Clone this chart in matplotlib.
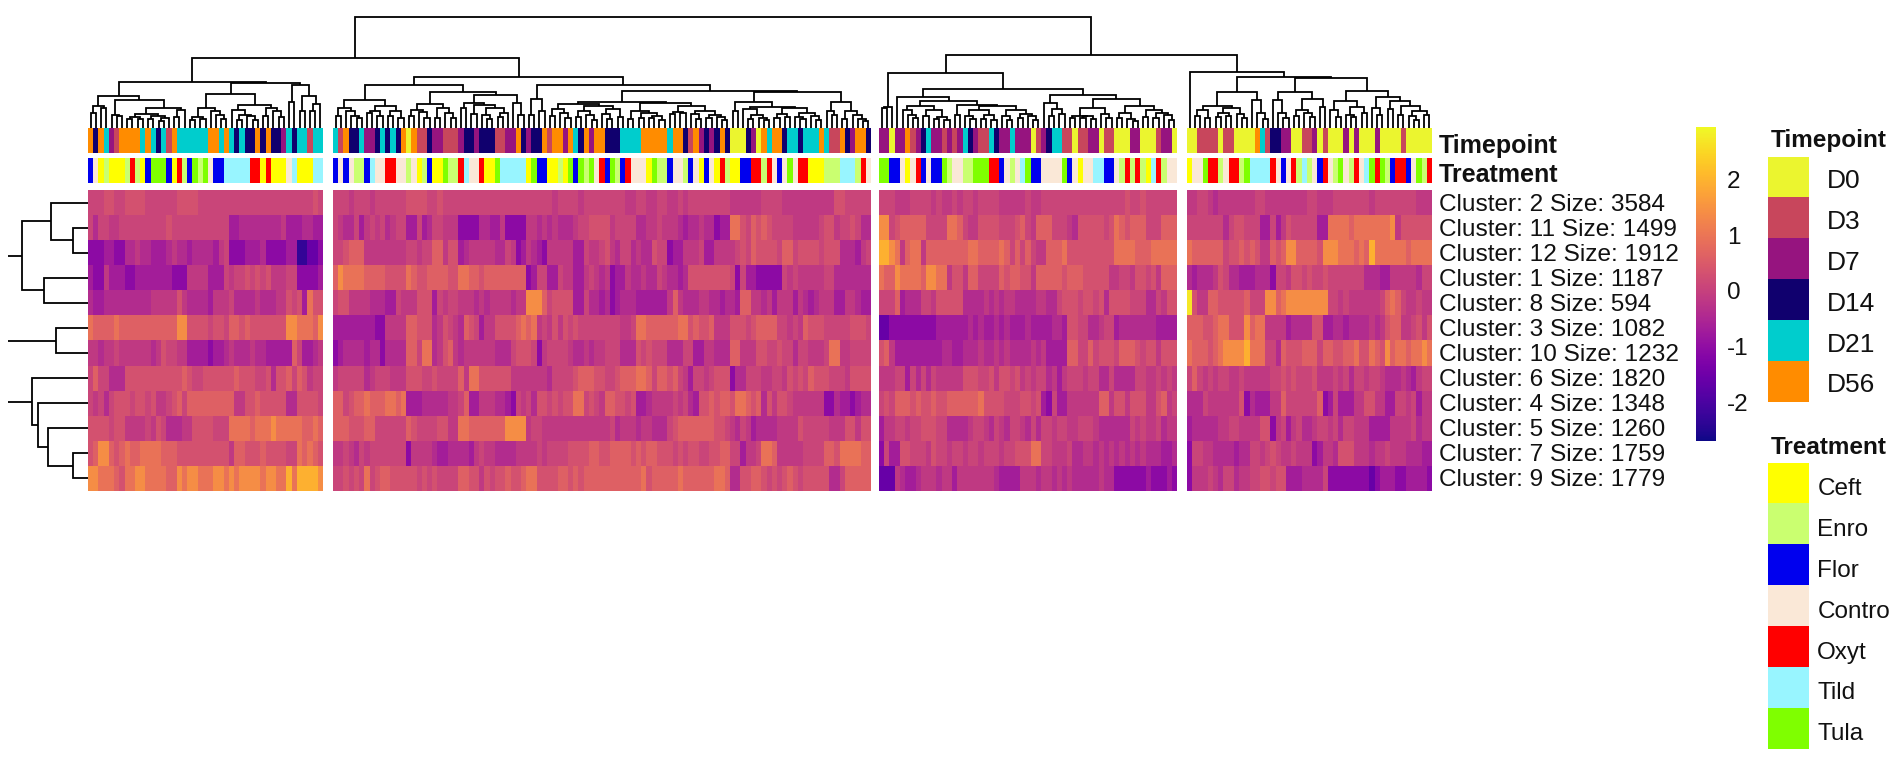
import numpy as np
import matplotlib
matplotlib.use("Agg")
import matplotlib.pyplot as plt
from matplotlib.colors import ListedColormap, Normalize
from matplotlib.cm import ScalarMappable
from matplotlib.transforms import ScaledTranslation

##### DATA #####
# heatmap cells, one list per row, columns of the 4 blocks
# the numbers are steps on z_levels
z_levels = [-2.3, -1.6, -1.05, -0.68, -0.38, -0.12, 0.1, 0.33, 0.62, 0.95, 1.4, 1.95, 2.7]

cluster_2 = [6,6,6,7,7,6,6,7,7,7, 7,6,6,6,6,6,6,7,7,7, 7,6,6,6,6,6,6,6,6,6, 6,6,6,6,6,6,6,6,6,6, 6,6,6,7,6,
    6,6,6,5,6,6,6,5,6,6, 6,6,6,6,7,7,7,7,6,6, 7,6,6,6,6,6,6,6,6,6, 6,6,6,6,6,6,6,6,6,6, 6,6,5,6,6,6,6,5,6,6, 6,6,
    6,6,6,6,5,5,6,6,5,5, 6,6,5,5,6,5,6,6,6,6, 6,6,6,6,5,5,5,5,5,5, 6,6,6,6,5,5,5,5,5,5, 5,5,5,5,7,7,6,6,6,6, 6,
    6,6,6,5,5,5,6,6,6,6, 5,6,5,5,6,5,6,6,5,6, 6,6,6,5,5,5,5,5,6,5, 5,6,6,6,6,6,6,6,6,6, 6,6,6,6,6,6,6,7,6,6, 7,6,6,6,6,6,6,
    5,5,6,6,5,4,5,5,5,5, 5,5,5,6,6,5,5,5,5,5, 5,5,5,6,6,5,5,5,6,6, 6,6,6,6,6,5,6,6,6,6, 6,6,6,6,5,5,5]
cluster_11 = [6,4,6,6,5,5,6,6,6,6, 6,6,6,6,6,7,6,6,6,6, 6,6,6,6,6,6,6,3,3,4, 4,4,4,4,4,4,4,5,3,3, 3,4,4,3,3,
    6,5,4,4,6,3,5,6,5,6, 4,5,6,6,3,3,6,3,4,6, 6,5,5,5,2,2,2,2,4,4, 3,3,5,2,2,2,2,5,5,4, 5,4,5,4,4,4,5,6,6,7, 7,7,
    7,5,6,6,6,6,4,4,5,5, 6,5,5,5,4,3,4,4,5,4, 4,2,3,3,9,9,7,6,8,7, 8,7,6,6,6,6,5,5,5,5, 5,6,7,7,5,6,6,7,6,4, 4,
    10,10,6,7,8,8,8,8,8,6, 6,6,6,9,9,8,6,5,5,7, 7,7,7,6,6,6,7,8,6,5, 8,8,8,6,6,6,5,4,7,7, 7,7,7,6,7,9,8,7,8,8, 8,6,6,6,8,8,8,
    6,6,6,6,6,6,6,4,6,7, 7,6,6,6,3,3,6,3,5,7, 6,6,6,6,6,3,3,9,9,9, 9,8,9,9,9,9,9,9,9,10, 5,7,7,7,7,7,7]
cluster_12 = [2,2,2,3,3,2,2,4,4,5, 4,4,3,3,3,4,5,4,4,3, 4,4,4,4,3,5,6,2,2,2, 3,3,3,4,2,2,2,2,3,3, 0,0,1,1,2,
    6,6,7,8,8,8,5,5,5,5, 5,5,5,5,6,6,5,6,6,8, 8,5,7,7,3,4,5,5,5,5, 5,4,4,6,5,2,3,5,4,3, 2,5,5,5,5,5,3,3,6,5, 5,6,
    7,5,4,6,6,4,5,4,4,7, 6,6,2,3,3,5,5,5,6,3, 3,5,5,5,5,6,7,6,8,7, 7,7,7,6,8,8,6,7,7,7, 7,6,7,7,7,4,4,4,3,5, 6,
    11,11,10,9,5,8,9,9,5,8, 8,8,8,8,8,8,8,9,9,8, 8,8,8,9,8,6,8,6,8,6, 5,5,8,8,8,9,7,7,7,7, 7,7,7,7,7,9,9,9,9,8, 8,8,9,9,9,9,9,
    9,8,8,8,8,8,8,6,7,7, 8,7,8,7,5,5,8,7,8,10, 10,8,8,8,8,7,10,10,10,9, 9,9,8,9,8,11,9,9,9,9, 9,9,8,9,9,9,9]
cluster_1 = [3,2,2,5,3,3,3,2,2,3, 3,3,3,3,3,3,2,2,2,5, 5,5,5,3,3,3,6,5,6,6, 7,6,7,6,7,5,5,5,6,6, 2,2,2,2,3,
    8,10,9,9,9,9,8,8,8,8, 7,7,7,7,9,8,7,7,8,8, 8,8,7,7,9,9,8,8,7,8, 8,8,8,8,8,8,8,2,3,6, 6,3,3,6,5,5,3,3,5,6, 5,4,
    5,2,3,3,5,4,4,5,4,4, 6,5,4,4,3,4,7,7,7,7, 7,7,7,7,6,2,6,3,3,2, 2,2,2,2,6,5,6,5,5,5, 5,5,6,6,4,4,4,4,4,4, 4,
    9,8,8,10,9,9,9,9,8,10, 10,9,9,5,7,7,5,8,8,6, 6,6,6,8,7,8,8,7,7,5, 8,8,8,8,8,7,8,8,8,7, 7,7,7,7,5,5,6,6,5,7, 7,6,7,5,8,8,8,
    4,3,4,4,4,5,7,6,4,4, 3,3,3,4,4,4,2,6,6,5, 7,7,6,7,6,6,7,6,6,6, 6,6,6,6,4,4,4,3,3,5, 5,5,5,5,4,6,6]
cluster_8 = [4,3,3,4,4,4,4,4,4,4, 4,4,5,5,5,5,5,7,5,4, 4,4,4,3,5,5,5,6,4,4, 4,4,5,4,4,4,5,5,7,6, 7,3,9,7,7,
    6,7,7,5,5,5,5,4,4,4, 3,3,6,5,5,5,7,7,7,3, 6,5,6,6,5,5,5,4,5,4, 5,5,5,5,4,5,5,10,10,10, 8,6,7,7,7,7,3,3,6,4, 4,3,
    4,2,3,4,4,4,3,3,3,3, 3,3,5,8,5,4,4,4,5,5, 4,4,3,4,4,3,8,8,5,5, 4,5,3,5,5,5,3,5,4,3, 4,5,5,5,3,3,5,5,4,3, 3,
    6,6,6,8,3,4,4,4,6,6, 5,7,7,7,7,7,4,4,4,4, 5,4,5,4,5,5,4,4,4,4, 5,5,4,4,6,7,7,7,6,7, 7,6,7,4,7,7,7,7,6,6, 6,4,4,6,5,7,7,
    12,7,5,5,8,8,7,7,7,7, 7,8,6,6,6,10,10,8,9,10, 10,10,10,10,10,10,10,6,6,5, 6,5,5,5,5,5,5,6,8,9, 8,6,5,5,6,5,5]
cluster_3 = [9,8,8,8,8,9,8,8,8,8, 8,8,8,8,8,8,8,10,10,7, 7,7,7,6,7,7,6,8,8,7, 8,7,7,7,7,7,7,7,10,10, 9,9,9,8,10,
    3,3,3,3,3,3,3,3,2,2, 5,5,5,5,8,8,7,7,7,4, 5,7,6,5,4,8,7,6,3,5, 5,7,7,7,7,8,9,8,9,5, 6,5,7,5,7,6,7,6,6,6, 6,6,
    6,6,6,5,5,6,9,9,8,8, 8,8,8,8,9,9,7,8,7,7, 8,5,5,5,7,7,7,6,7,8, 8,8,8,6,6,5,6,5,8,7, 7,7,6,6,6,6,6,7,7,7, 6,
    1,1,2,2,2,2,2,2,2,2, 2,3,3,3,3,3,3,4,3,4, 3,3,4,3,4,3,3,3,4,3, 3,3,3,4,4,3,7,7,6,6, 4,4,5,6,6,3,4,4,4,4, 4,4,4,3,3,3,3,
    8,8,8,7,7,8,9,9,7,7, 7,10,8,9,9,5,5,5,5,3, 4,4,4,4,7,7,3,3,4,4, 3,4,4,4,4,5,4,5,7,8, 8,5,5,6,7,5,7]
cluster_10 = [5,5,4,5,5,6,5,5,5,5, 5,5,4,5,7,6,6,5,5,3, 3,3,3,2,3,3,4,5,4,4, 4,5,4,4,3,3,3,3,3,8, 6,3,3,4,5,
    2,3,4,4,4,4,3,4,4,2, 4,4,4,4,8,8,6,9,9,4, 5,7,8,5,4,5,5,5,5,5, 5,4,4,4,6,7,7,7,6,2, 5,6,6,6,6,5,4,4,5,4, 5,5,
    6,6,6,4,4,4,7,6,7,6, 6,6,4,4,4,6,6,3,3,5, 5,4,4,4,8,8,5,5,5,7, 7,6,6,7,6,6,4,6,6,5, 5,5,6,9,9,5,5,6,6,6, 6,
    7,8,5,3,3,3,3,3,3,3, 3,3,4,4,3,3,4,4,4,5, 4,4,5,4,5,4,4,4,4,5, 4,5,3,3,3,3,8,8,6,6, 8,6,7,7,7,6,8,8,8,7, 6,7,7,5,7,7,7,
    9,8,8,8,7,8,9,10,10,10, 10,11,9,9,9,6,6,4,8,7, 7,7,8,8,8,6,8,8,7,7, 8,8,9,7,7,9,8,7,10,8, 9,9,8,9,9,10,9]
cluster_6 = [6,8,6,6,4,4,4,7,7,7, 7,7,7,7,7,7,7,7,8,7, 6,6,7,7,7,7,7,7,8,7, 7,7,6,6,7,4,7,7,8,6, 8,7,5,6,6,
    5,6,6,6,6,6,4,5,6,6, 6,5,5,5,7,7,7,6,6,7, 6,6,6,6,8,5,9,9,7,7, 7,7,7,7,5,5,5,5,5,5, 5,4,6,6,6,6,7,8,8,8, 7,7,
    6,6,7,8,8,8,9,9,8,6, 8,8,7,8,6,5,3,6,6,5, 6,7,7,7,2,4,4,6,6,6, 5,5,6,6,5,7,6,7,6,8, 7,7,7,6,6,6,5,7,7,7, 7,
    5,5,5,6,6,3,6,4,6,4, 6,5,5,5,5,5,7,7,7,6, 6,7,5,7,7,6,7,5,6,5, 6,6,4,5,3,5,6,6,6,5, 6,6,4,4,6,4,4,4,4,6, 6,5,5,6,5,6,5,
    6,8,6,5,6,5,6,6,5,5, 6,5,5,5,5,5,6,6,7,6, 7,6,6,6,7,5,5,5,6,5, 6,4,6,6,5,6,6,5,4,4, 4,5,4,3,5,6,6]
cluster_4 = [6,5,6,4,6,7,7,7,6,7, 7,6,7,5,5,6,7,8,6,8, 8,8,8,8,8,8,8,8,5,5, 7,7,8,7,7,7,7,7,4,4, 7,7,7,7,6,
    8,8,6,7,8,8,9,8,8,8, 9,9,8,9,3,3,3,4,4,4, 4,4,5,5,6,8,3,3,5,5, 5,4,4,3,2,6,5,6,4,7, 7,6,7,6,7,7,9,9,6,7, 6,5,
    8,8,7,7,6,7,3,3,4,5, 5,5,5,6,5,6,4,3,7,7, 8,7,8,8,7,9,9,8,7,8, 4,7,5,7,7,6,5,5,5,5, 5,5,2,2,4,3,3,2,3,4, 4,
    6,7,6,8,8,8,7,8,7,7, 8,7,7,8,8,8,8,8,8,9, 7,7,7,7,6,6,6,7,7,6, 7,3,2,6,3,3,5,5,5,5, 5,5,8,8,5,7,7,5,7,7, 7,5,5,7,8,5,6,
    4,4,4,6,5,5,5,5,5,5, 7,2,4,3,3,3,5,5,8,6, 6,6,6,6,6,8,2,3,6,3, 3,3,5,5,7,7,5,5,3,3, 6,6,5,6,3,5,5]
cluster_5 = [7,7,7,7,6,7,7,5,5,5, 5,6,5,7,6,4,4,4,5,5, 7,7,7,7,6,6,6,9,9,9, 9,8,9,9,9,10,9,9,9,9, 9,8,8,9,8,
    8,8,8,7,7,7,8,8,6,6, 6,6,6,6,8,7,6,6,6,6, 7,7,5,5,9,9,8,8,8,8, 8,8,8,10,10,10,10,5,6,6, 5,5,5,5,5,5,5,5,5,5, 5,5,
    5,6,4,5,5,5,4,5,5,4, 4,4,6,7,8,8,8,8,8,8, 8,7,7,6,5,4,6,5,3,4, 4,4,4,5,5,5,5,7,6,6, 6,6,6,5,5,5,7,7,5,7, 7,
    3,5,5,6,6,5,6,6,7,7, 7,6,6,4,4,4,4,5,6,6, 5,4,6,5,4,6,6,5,4,6, 4,6,6,5,6,6,5,5,6,6, 6,5,4,4,4,4,4,4,6,5, 6,5,5,6,4,5,5,
    3,4,4,4,4,4,5,5,6,6, 5,5,5,5,7,7,2,5,6,3, 5,6,4,4,5,6,6,5,6,4, 6,6,5,5,5,3,3,3,3,5, 5,5,5,6,4,5,5]
cluster_7 = [7,8,10,10,8,7,8,9,8,8, 9,9,9,9,8,8,8,7,7,7, 7,7,7,7,7,7,7,5,8,8, 7,7,7,8,7,7,7,7,6,6, 9,8,9,8,7,
    5,5,6,5,4,6,5,6,6,6, 6,6,6,6,2,5,5,5,5,4, 3,3,4,4,4,4,3,5,6,5, 5,4,4,4,4,5,5,5,5,6, 5,6,6,6,6,7,7,7,7,8, 8,7,
    7,8,8,8,8,7,8,7,8,8, 7,7,7,6,7,6,7,7,6,6, 7,7,8,8,6,6,3,5,5,6, 9,9,8,5,5,5,5,5,6,6, 6,6,8,8,7,9,9,9,9,8, 8,
    2,6,3,3,7,7,6,6,6,5, 7,6,6,5,6,6,5,6,6,5, 6,6,6,5,6,6,7,7,7,9, 9,6,6,5,5,5,6,4,4,5, 5,4,5,4,5,4,5,4,5,4, 5,4,4,4,3,3,4,
    2,6,6,5,5,4,4,4,4,3, 4,4,6,6,5,6,7,6,5,5, 6,5,5,5,2,3,5,5,4,7, 7,7,5,5,5,4,5,5,6,5, 5,5,4,4,4,3,3]
cluster_9 = [10,10,9,9,9,8,7,9,9,10, 10,9,9,9,9,8,8,10,9,10, 10,9,9,9,10,10,9,10,9,10, 10,10,10,9,10,10,9,9,11,9, 11,11,11,11,10,
    6,6,7,6,7,6,9,6,7,8, 8,7,7,7,7,7,6,7,6,7, 6,6,6,6,8,8,7,7,5,7, 6,7,7,8,7,7,8,9,9,7, 7,7,7,8,8,7,8,7,8,8, 8,8,
    8,8,8,8,8,8,8,9,7,8, 8,8,8,8,9,8,8,8,8,8, 8,9,9,8,4,4,7,7,8,8, 7,6,7,6,7,8,7,6,7,7, 7,7,7,4,4,6,8,8,8,8, 8,
    1,1,1,5,4,3,3,4,5,5, 5,4,5,5,3,5,5,5,5,5, 5,5,4,3,3,3,3,5,5,5, 4,5,5,4,5,4,5,4,4,4, 4,4,5,4,4,2,2,2,2,2, 2,3,2,2,2,3,2,
    2,5,5,5,6,5,4,6,6,4, 5,5,6,6,7,7,6,7,7,3, 3,3,4,4,4,4,6,2,2,2, 2,2,2,2,2,1,2,3,3,3, 2,2,3,3,3,3,2]

row_order = [cluster_2, cluster_11, cluster_12, cluster_1, cluster_8, cluster_3, cluster_10,
             cluster_6, cluster_4, cluster_5, cluster_7, cluster_9]
row_labels = ["Cluster: 2 Size: 3584", "Cluster: 11 Size: 1499", "Cluster: 12 Size: 1912",
              "Cluster: 1 Size: 1187", "Cluster: 8 Size: 594", "Cluster: 3 Size: 1082",
              "Cluster: 10 Size: 1232", "Cluster: 6 Size: 1820", "Cluster: 4 Size: 1348",
              "Cluster: 5 Size: 1260", "Cluster: 7 Size: 1759", "Cluster: 9 Size: 1779"]

# index into timepoints, per column
timepoint_cols = [5,3,5,4,2,1,5,5,5,5, 4,5,4,3,4,1,5,4,4,4, 4,4,4,5,5,4,5,4,3,4, 3,3,5,3,5,3,3,2,4,3, 4,4,1,4,4,
    4,1,5,3,3,4,2,2,3,4, 3,4,3,5,0,5,1,1,3,2, 2,1,1,1,2,3,3,2,3,3, 3,1,1,2,2,5,3,2,3,3, 5,1,5,5,2,5,4,3,5,2, 5,5,
    3,3,3,4,4,4,4,5,5,5, 5,5,4,5,5,3,1,5,2,3, 2,3,5,3,0,0,0,3,2,0, 5,4,5,5,3,4,4,3,4,4, 4,5,4,1,1,5,3,2,5,5, 3,
    2,2,0,2,2,5,1,2,3,4, 2,2,1,2,1,2,4,3,2,1, 1,4,3,2,2,4,2,2,2,0, 1,2,3,4,4,1,1,0,1,1, 2,2,0,1,1,0,0,0,2,2, 0,0,0,1,2,2,0,
    0,0,1,1,1,1,0,1,1,0, 0,0,0,5,4,1,3,3,2,2, 0,0,1,1,2,0,1,0,0,0, 2,0,2,0,0,0,2,0,0,0, 0,1,0,0,0,0,0]
# index into treatments, per column
treatment_cols = [2,3,0,1,0,0,0,1,4,1, 0,2,6,6,6,2,0,4,1,2, 6,1,6,3,2,2,5,5,5,5, 5,4,4,0,4,0,0,0,3,5, 0,0,0,5,5,
    2,3,2,3,1,1,2,5,3,3, 4,4,3,3,1,3,0,1,2,0, 0,6,1,1,4,5,3,3,4,0, 0,6,5,5,5,5,5,0,6,2, 2,0,0,1,0,6,2,6,1,6, 3,4,
    2,6,1,2,4,3,3,3,0,6, 1,1,2,3,3,1,2,3,0,2, 3,0,4,1,0,0,2,2,4,4, 1,4,3,2,3,6,3,4,4,0, 0,0,1,1,1,5,5,5,1,4, 3,
    6,6,2,2,3,0,3,4,2,3, 2,2,6,1,3,3,1,1,6,6, 6,4,4,2,3,1,3,5,6,2, 2,3,3,3,3,6,2,3,0,3, 3,5,5,2,2,3,1,4,1,4, 1,0,5,4,1,3,3,
    0,3,3,6,4,4,1,3,4,4, 1,6,5,5,5,5,4,3,2,3, 4,1,5,1,3,2,4,3,1,6, 3,1,4,3,5,6,4,6,1,2, 4,4,2,3,6,1,4]

timepoints = ["D0", "D3", "D7", "D14", "D21", "D56"]
timepoint_colors = ["#EBF52F", "#C8465C", "#96147F", "#10006E", "#00CDCD", "#FF8C00"]
treatments = ["Ceft", "Enro", "Flor", "Contro", "Oxyt", "Tild", "Tula"]
treatment_colors = ["#FFFF00", "#CAFF70", "#0000EE", "#FAE8D7", "#FF0000", "#98F5FF", "#7FFF00"]

# dendrograms: [height, left, right], a leaf is 0
tree_1 = [46,
    [32, [22, [15,0,0], [20,0,0]],
         [28, [13,0,[12,0,0]],
              [20, [14,[11,[9,0,0],[9,0,0]],[12,[9,0,0],[10,[7,0,0],0]]], [18,[11,0,0],0]]]],
    [45, [34, [20,[11,[8,0,0],[9,0,0]],[17,0,[13,0,[9,0,0]]]],
              [23,[18,0,[13,[8,0,0],[12,0,[8,0,0]]]],[20,[12,0,0],[17,0,[11,0,0]]]]],
         [43, [26,0,0], [32,[17,0,0],[24,[17,0,0],0]]]]]
tree_2 = [51,
    [43, [28, [20,[12,0,0],[17,0,[12,0,[10,0,0]]]],
              [22,[17,[15,0,0],[12,0,0]],[17,[12,0,0],[10,0,0]]]],
         [36, [24,[18,[12,0,0],[16,0,[10,0,0]]],[20,[10,0,0],[15,0,[10,0,0]]]],
              [33, [25,[20,0,0],[23,[14,0,0],[20,[13,0,[9,0,0]],[15,[11,0,0],0]]]],
                   [25,0,[13,0,0]]]]],
    [43, [29,[13,0,0],[17,0,0]],
         [37, [26, [24,[19,[12,0,0],[15,0,[10,0,0]]],
                       [22,[17,[11,0,0],[13,0,[8,0,0]]],[19,[14,0,[9,0,0]],[11,0,0]]]],
                   [25,[17,[9,0,0],[15,[10,0,0],[12,[10,0,0],[8,0,0]]]],
                       [22,[16,[14,0,0],[15,0,0]],[17,[14,0,[9,0,0]],[13,[10,0,0],[11,0,[8,0,0]]]]]]],
              [36, [26,[17,0,0],[21,[19,0,[13,[9,0,0],[10,0,[8,0,0]]]],
                                    [20,[14,[10,0,0],[11,0,0]],[15,[11,0,[9,0,0]],[12,0,[8,0,0]]]]]],
                   [26,[17,0,[13,0,0]],[17,[9,0,0],[13,0,[9,0,[7,0,0]]]]]]]]]
tree_3 = [55,
    [21,[20,0,0],0],
    [39, [31, 0,
          [27, [22,[18,0,[13,0,[10,0,0]]],[18,[12,0,0],[11,[9,0,0],[8,0,0]]]],
               [23,[13,0,0],[22,[18,[12,0,[9,0,0]],[13,[9,0,0],[8,0,0]]],
                               [18,[12,0,[8,0,0]],[14,[10,0,0],[12,0,[8,0,0]]]]]]]],
         [33, [25,0,[19,[12,0,0],[14,0,0]]],
              [29, [20,[12,[10,0,0],[12,[10,0,0],[9,0,0]]],[14,0,[10,0,0]]],
                   [22,[15,[10,0,0],[9,0,[7,0,0]]],[18,[11,0,0],[15,[10,0,0],[13,0,[8,0,0]]]]]]]]]
tree_4 = [56,
    0,
    [51, [36, [22,[18,[12,0,0],[10,0,0]],[20,[15,[11,0,0],[12,0,0]],[14,0,[10,0,0]]]],
              [28,0,[15,0,[9,0,0]]]],
         [50, [36,[28,0,[15,0,[10,0,0]]],[29,[18,[12,0,0],[15,0,[11,0,0]]],[21,0,0]]],
              [37, [27,[18,0,[11,0,0]],[21,[13,0,[11,0,0]],[15,0,0]]],
                   [31,[20,0,[13,0,0]],[27,[19,0,0],[22,[13,0,0],[17,[12,0,[8,0,0]],[13,0,0]]]]]]]]]
column_tree = [111, [70, tree_1, tree_2], [73, tree_3, tree_4]]
row_trees = [[66,[37,0,[15,0,0]],[44,0,0]], [32,0,0], [56,0,[50,0,[40,0,[15,0,0]]]]]

##### LAYOUT (pixels) #####
W, H = 1902, 763
block_sizes = [45, 103, 57, 47]
block_edges = [(88, 323), (333, 871), (879, 1177), (1187, 1432)]
heat_top, heat_bottom = 190, 491
time_top, time_bottom = 128, 153
treat_top, treat_bottom = 158, 183
stem_depth = 80

font = ["Liberation Sans", "DejaVu Sans"]
plt.rcParams["font.family"] = font

for r in row_order + [timepoint_cols, treatment_cols]:
    if len(r) != sum(block_sizes):
        raise ValueError(str([len(x) for x in row_order + [timepoint_cols, treatment_cols]]))

fig = plt.figure(figsize=(W / 100, H / 100), dpi=100, facecolor="white")

def axes_px(x0, y0, x1, y1):
    ax = fig.add_axes([x0 / W, 1 - y1 / H, (x1 - x0) / W, (y1 - y0) / H])
    return ax

heat = np.array(z_levels)[np.array(row_order)]
times = np.array(timepoint_cols)
treats = np.array(treatment_cols)
vmin, vmax = -2.68, 2.93

start = 0
for n, (x0, x1) in zip(block_sizes, block_edges):
    stop = start + n
    ax = axes_px(x0, heat_top, x1, heat_bottom)
    ax.imshow(heat[:, start:stop], cmap="plasma", vmin=vmin, vmax=vmax, aspect="auto", interpolation="nearest")
    ax.axis("off")
    ax = axes_px(x0, time_top, x1, time_bottom)
    ax.imshow(times[start:stop][None, :], cmap=ListedColormap(timepoint_colors), vmin=-0.5, vmax=5.5, aspect="auto", interpolation="nearest")
    ax.axis("off")
    ax = axes_px(x0, treat_top, x1, treat_bottom)
    ax.imshow(treats[start:stop][None, :], cmap=ListedColormap(treatment_colors), vmin=-0.5, vmax=6.5, aspect="auto", interpolation="nearest")
    ax.axis("off")
    start = stop

# overlay in pixel units for dendrograms and text
canvas = fig.add_axes([0, 0, 1, 1], zorder=5)
canvas.set_xlim(0, W)
canvas.set_ylim(H, 0)
canvas.axis("off")

def walk(node, leaves, segs):
    if node == 0:
        return next(leaves), 0
    h, left, right = node
    a, ha = walk(left, leaves, segs)
    b, hb = walk(right, leaves, segs)
    segs.append(([a, a, b, b], [ha, h, h, hb]))
    return (a + b) / 2, h

leaf_x = []
for n, (x0, x1) in zip(block_sizes, block_edges):
    leaf_x += list(x0 + (np.arange(n) + 0.5) * (x1 - x0) / n)
segs = []
walk(column_tree, iter(leaf_x), segs)
for xs, hs in segs:
    canvas.plot(xs, [time_top - h for h in hs], color="black", lw=1.3, solid_joinstyle="miter", solid_capstyle="butt")

row_h = (heat_bottom - heat_top) / 12
leaf_y = iter(heat_top + (np.arange(12) + 0.5) * row_h)
for tree in row_trees:
    segs = []
    y, h = walk(tree, leaf_y, segs)
    segs.append(([y, y], [h, stem_depth]))
    for ys, hs in segs:
        canvas.plot([block_edges[0][0] - h for h in hs], ys, color="black", lw=1.3, solid_joinstyle="miter", solid_capstyle="butt")

for i, label in enumerate(row_labels):
    canvas.text(1439, heat_top + (i + 0.5) * row_h + 2, label, fontsize=17.6, va="center", ha="left", color="#111111")
canvas.text(1439, (time_top + time_bottom) / 2 + 5, "Timepoint", fontsize=18, fontweight="bold", va="center", color="#111111")
canvas.text(1439, (treat_top + treat_bottom) / 2 + 4, "Treatment", fontsize=18, fontweight="bold", va="center", color="#111111")

# colorbar
cax = axes_px(1696, 127, 1716, 441)
cb = fig.colorbar(ScalarMappable(Normalize(vmin, vmax), "plasma"), cax=cax, ticks=[-2, -1, 0, 1, 2])
cb.outline.set_visible(False)
cb.ax.tick_params(length=0, pad=8, labelsize=17.5, labelcolor="#111111")
cb.ax.set_yticklabels(["-2", "-1", "0", "1", "2"])

# legends
def legend(title, names, colors, top, title_y, pad, size, drop):
    n = len(names)
    ax = axes_px(1768, top, 1809, top + 40.9 * n)
    ax.imshow(np.arange(n)[:, None], cmap=ListedColormap(colors), aspect="auto", interpolation="nearest")
    ax.set_xticks([])
    ax.yaxis.tick_right()
    ax.set_yticks(range(n), names)
    ax.tick_params(axis="y", length=0, pad=pad, labelsize=size, labelcolor="#111111")
    shift = ScaledTranslation(0, -drop / 100, fig.dpi_scale_trans)
    for lab in ax.get_yticklabels():
        lab.set_transform(lab.get_transform() + shift)
    for s in ax.spines.values():
        s.set_visible(False)
    canvas.text(1771, title_y, title, fontsize=17.5, fontweight="bold", va="center", color="#111111")

legend("Timepoint", timepoints, timepoint_colors, 157, 140, 13, 19, 1)
legend("Treatment", treatments, treatment_colors, 463, 447, 6, 17.5, 3)

fig.savefig("out.png", dpi=100, facecolor="white")
